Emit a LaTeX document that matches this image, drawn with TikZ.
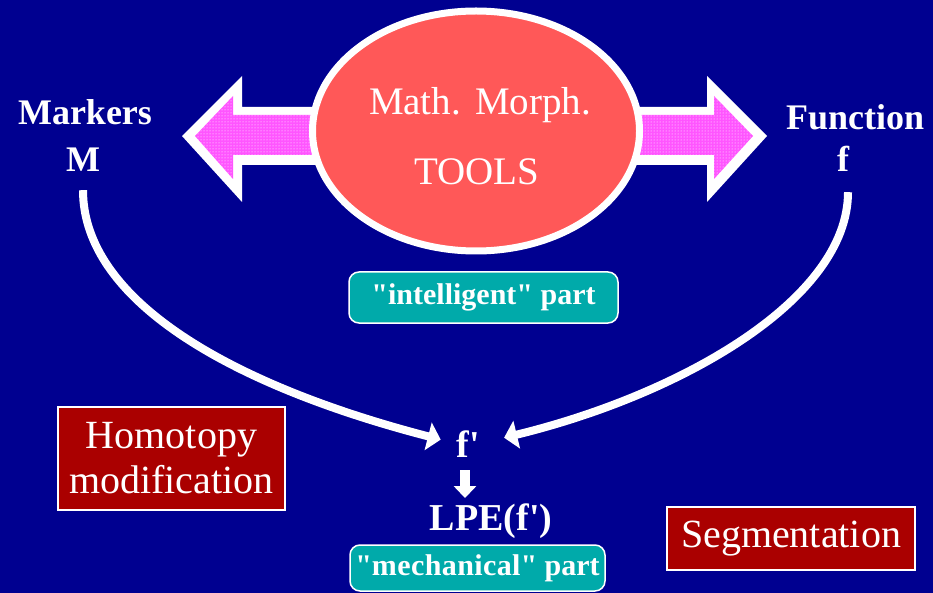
\documentclass[tikz,border=0pt]{standalone}
\usepackage{fontspec}
\setmainfont{Liberation Serif}
\usetikzlibrary{arrows.meta,patterns,shapes.geometric}
\definecolor{bg}{RGB}{0,0,144}
\definecolor{salmon}{RGB}{255,88,88}
\definecolor{pinkc}{RGB}{255,85,255}
\definecolor{tealc}{RGB}{0,170,170}
\definecolor{darkred}{RGB}{170,0,0}
\tikzset{
  lbl/.style={text=white, inner sep=0pt, anchor=base},
  boldlbl/.style={lbl, font=\bfseries\fontsize{36}{40}\selectfont},
  biglbl/.style={lbl, font=\bfseries\fontsize{38}{42}\selectfont},
  toollbl/.style={lbl, font=\fontsize{39}{42}\selectfont},
  redbox/.style={fill=darkred, draw=white, line width=2pt, text=white,
    inner sep=0pt, align=center, font=\fontsize{40}{45}\selectfont},
  tealbox/.style={fill=tealc, draw=white, line width=1.5pt, rounded corners=10pt,
    text=white, inner sep=0pt, font=\bfseries\fontsize{30}{34}\selectfont},
  curvearrow/.style={draw=white, line width=8pt, -{Triangle[length=13pt,width=28pt]}},
  bigarrowout/.style={fill=white},
  bigarrowin/.style={fill=pinkc},
  dotsfill/.style={pattern=dots, pattern color=white}
}
\begin{document}
\begin{tikzpicture}[x=1pt,y=-1pt]
\fill[bg] (0,0) rectangle (933,593);
\useasboundingbox (0,0) rectangle (933,593);

% big double arrows
\fill[bigarrowout] (182,136) -- (242,76) -- (242,107) -- (330,107) -- (330,165) -- (242,165) -- (242,202) -- cycle;
\fill[bigarrowin] (195,136) -- (233,96) -- (233,115) -- (330,115) -- (330,155) -- (233,155) -- (233,179) -- cycle;
\fill[dotsfill] (195,136) -- (233,96) -- (233,115) -- (330,115) -- (330,155) -- (233,155) -- (233,179) -- cycle;
\fill[bigarrowout] (767,136) -- (707,76) -- (707,107) -- (620,107) -- (620,165) -- (707,165) -- (707,202) -- cycle;
\fill[bigarrowin] (753,136) -- (714,96) -- (714,115) -- (620,115) -- (620,155) -- (714,155) -- (714,179) -- cycle;
\fill[dotsfill] (753,136) -- (714,96) -- (714,115) -- (620,115) -- (620,155) -- (714,155) -- (714,179) -- cycle;

% ellipse
\node[ellipse, draw=white, line width=7pt, fill=salmon, minimum width=327pt,
  minimum height=240pt, inner sep=0pt] (tools) at (476,131) {};
\node[toollbl] (mm) at (480,115) {Math.\hspace{14pt}Morph.};
\node[toollbl] (tl) at (477,185) {TOOLS};

% side labels
\node[boldlbl] (markers) at (85,125) {Markers};
\node[boldlbl] (m) at (83,172) {M};
\node[boldlbl, anchor=base west] (function) at (786,130) {Function};
\node[boldlbl] (f) at (843,172) {f};

% centre labels
\node[biglbl] (fp) at (468,457) {f\textquotesingle};
\node[biglbl] (lpe) at (491,530) {LPE(f\textquotesingle)};

% boxes
\node[tealbox, minimum width=269pt, minimum height=51pt] (intel) at (483.5,297.5) {\textquotedbl intelligent\textquotedbl\ part};
\node[tealbox, minimum width=255pt, minimum height=46pt] (mech) at (477.5,568) {\textquotedbl m\hspace{.4pt}e\hspace{.4pt}c\hspace{.4pt}h\hspace{.4pt}a\hspace{.4pt}n\hspace{.4pt}i\hspace{.4pt}c\hspace{.4pt}a\hspace{.4pt}l\textquotedbl\ part};
\node[redbox, minimum width=227pt, minimum height=103pt] (homo) at (171.5,458.5) {Homotopy\\modification};
\node[redbox, minimum width=248pt, minimum height=63pt] (seg) at (791,538.5) {Segmentation};

% connectors
\draw[curvearrow, shorten <=18pt, shorten >=16pt] (m.south) .. controls (83,300) and (230,385) .. (fp.west);
\draw[curvearrow, shorten <=20pt, shorten >=25pt] ([xshift=5pt]f.south) .. controls (848,300) and (680,395) .. (fp.east);
\draw[white, line width=10pt, -{Triangle[length=12pt,width=22pt]}, shorten <=13pt, shorten >=5pt]
  ([xshift=-3pt]fp.south) -- ([xshift=-3pt]fp.south |- lpe.north);
\end{tikzpicture}
\end{document}
